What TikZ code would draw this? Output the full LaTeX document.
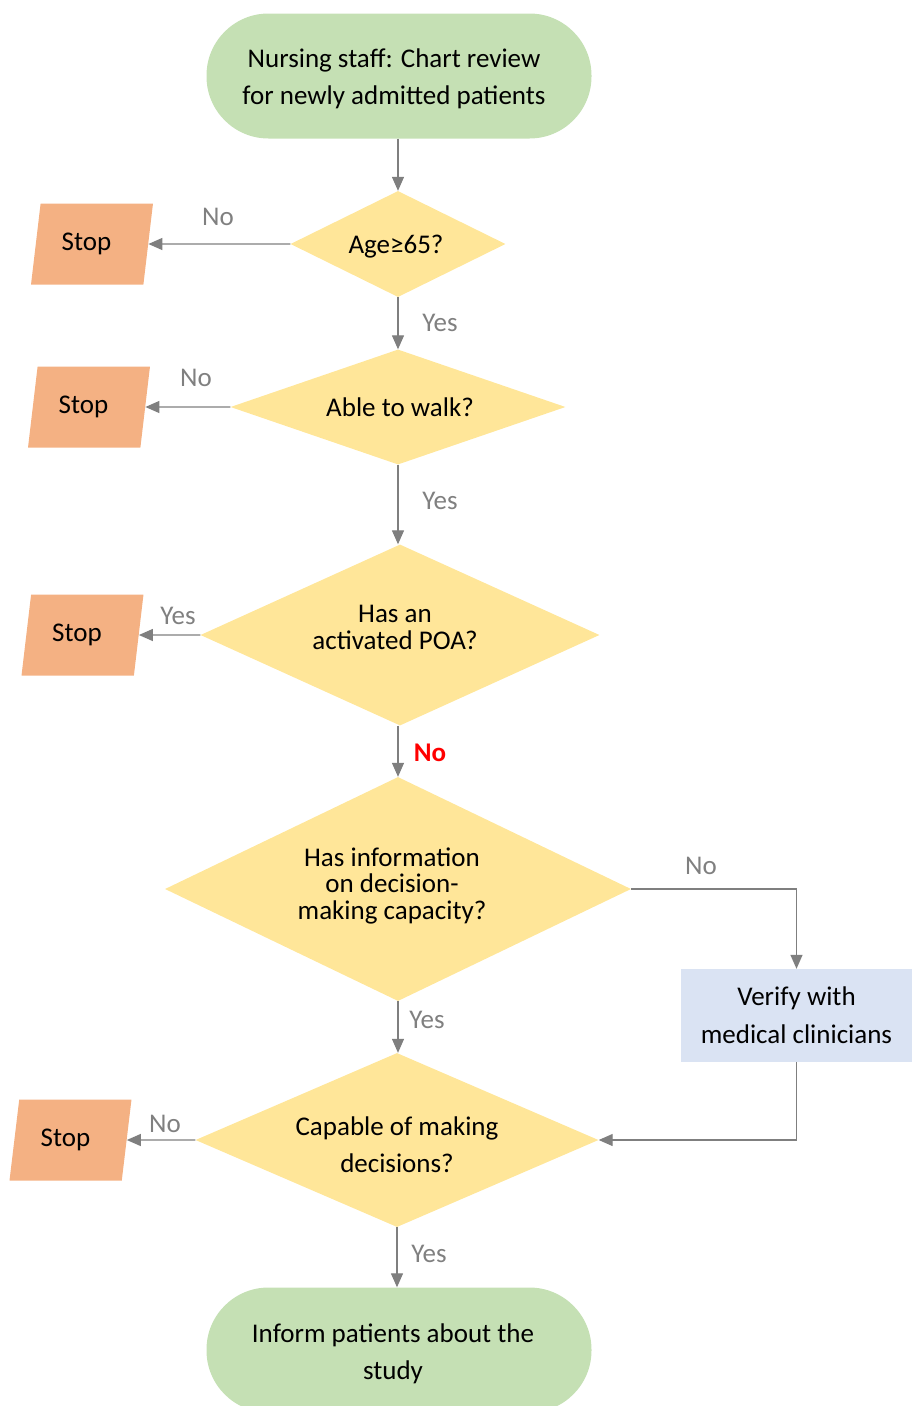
\documentclass[tikz,border=0pt]{standalone}
\usepackage{fontspec}
\setmainfont{Carlito}
\usetikzlibrary{shapes.geometric,arrows.meta}
\definecolor{termgreen}{HTML}{C5E0B4}
\definecolor{decyellow}{HTML}{FFE699}
\definecolor{stoporange}{HTML}{F4B183}
\definecolor{procblue}{HTML}{DAE3F3}
\definecolor{linegray}{HTML}{7F7F7F}
\definecolor{labelgray}{HTML}{808080}
\begin{document}
\begin{tikzpicture}[x=1pt,y=-1pt,
  every node/.style={font=\fontsize{27}{37.5}\selectfont, inner sep=0pt},
  term/.style={rectangle, rounded corners=62pt, fill=termgreen, minimum width=385pt, minimum height=125pt},
  dec/.style={diamond, fill=decyellow},
  txt/.style={align=center},
  tight/.style={font=\fontsize{27}{26.5}\selectfont},
  stopbox/.style={trapezium, trapezium stretches=true, trapezium left angle=75.5, trapezium right angle=104.5, fill=stoporange, minimum width=122pt, minimum height=81pt},
  proc/.style={rectangle, fill=procblue, minimum width=231pt, minimum height=93pt},
  conn/.style={draw=linegray, line width=1.3pt, -{Triangle[length=14pt,width=12pt]}},
  lbl/.style={text=labelgray},
]
\useasboundingbox (0,0) rectangle (912,1406);
\clip (0,0) rectangle (912,1406);

% main column shapes
\node[term] (start) at (399,76) {};
\node[dec, minimum width=215pt, minimum height=106pt] (d1) at (398,244) {};
\node[dec, minimum width=335pt, minimum height=115pt] (d2) at (398,407) {};
\node[dec, minimum width=399pt, minimum height=181pt] (d3) at (400,635) {};
\node[dec, minimum width=466pt, minimum height=224pt] (d4) at (398,889) {};
\node[dec, minimum width=403pt, minimum height=174pt] (d5) at (397,1140) {};
\node[term] (end) at (399,1350) {};
\node[proc] (v) at (796.5,1015.5) {};

% texts
\node[txt] (t0) at (394,79) {Nursing staff: Chart review\\for newly admitted patients};
\node[txt] (t1) at (396,246.5) {Age≥65?};
\node[txt] (t2) at (400,407.5) {Able to walk?};
\node[txt, tight] (t3) at (395,627.5) {Has an\\activated POA?};
\node[txt, tight] (t4) at (392,885.5) {Has information\\on decision-\\making capacity?};
\node[txt] (t5) at (397,1144.5) {Capable of making\\decisions?};
\node[txt] (t6) at (393,1354) {Inform patients about the\\study};
\node[txt] (t7) at (796.5,1015) {Verify with\\medical clinicians};

% stop boxes
\node[stopbox] (s1) at (92,244) {\raisebox{-1pt}{Stop}\hspace*{11pt}};
\node[stopbox] (s2) at (89,407) {\raisebox{-1pt}{Stop}\hspace*{11pt}};
\node[stopbox] (s3) at (82.5,635) {\raisebox{-1pt}{Stop}\hspace*{11pt}};
\node[stopbox] (s5) at (70.5,1140) {\raisebox{-1pt}{Stop}\hspace*{10pt}};

% connectors
\draw[conn] (start.south -| d1.north) -- (d1.north);
\draw[conn] (d1.west) -- (s1.east);
\draw[conn] (d1.south) -- (d2.north);
\draw[conn] (d2.west) -- (s2.east);
\draw[conn] (d2.south) -- (d3.north -| d2.south);
\draw[conn] (d3.west) -- (s3.east);
\draw[conn] (d3.south -| d4.north) -- (d4.north);
\draw[conn] (d4.east) -| (v.north);
\draw[conn] (d4.south) -- (d5.north -| d4.south);
\draw[conn] (v.south) |- (d5.east);
\draw[conn] (d5.west) -- (s5.east);
\draw[conn] (d5.south) -- (end.north -| d5.south);

% labels
\node[lbl] (l1) at (218,217) {No};
\node[lbl] (l2) at (440,323) {Yes};
\node[lbl] (l3) at (196,378) {No};
\node[lbl] (l4) at (440,501) {Yes};
\node[lbl] (l5) at (178,616) {Yes};
\node[text=red, font=\fontsize{27}{37.5}\selectfont\bfseries] (l6) at (430,753) {No};
\node[lbl] (l7) at (701,866) {No};
\node[lbl] (l8) at (427,1020) {Yes};
\node[lbl] (l9) at (165,1124) {No};
\node[lbl] (l10) at (429,1254) {Yes};
\end{tikzpicture}
\end{document}
